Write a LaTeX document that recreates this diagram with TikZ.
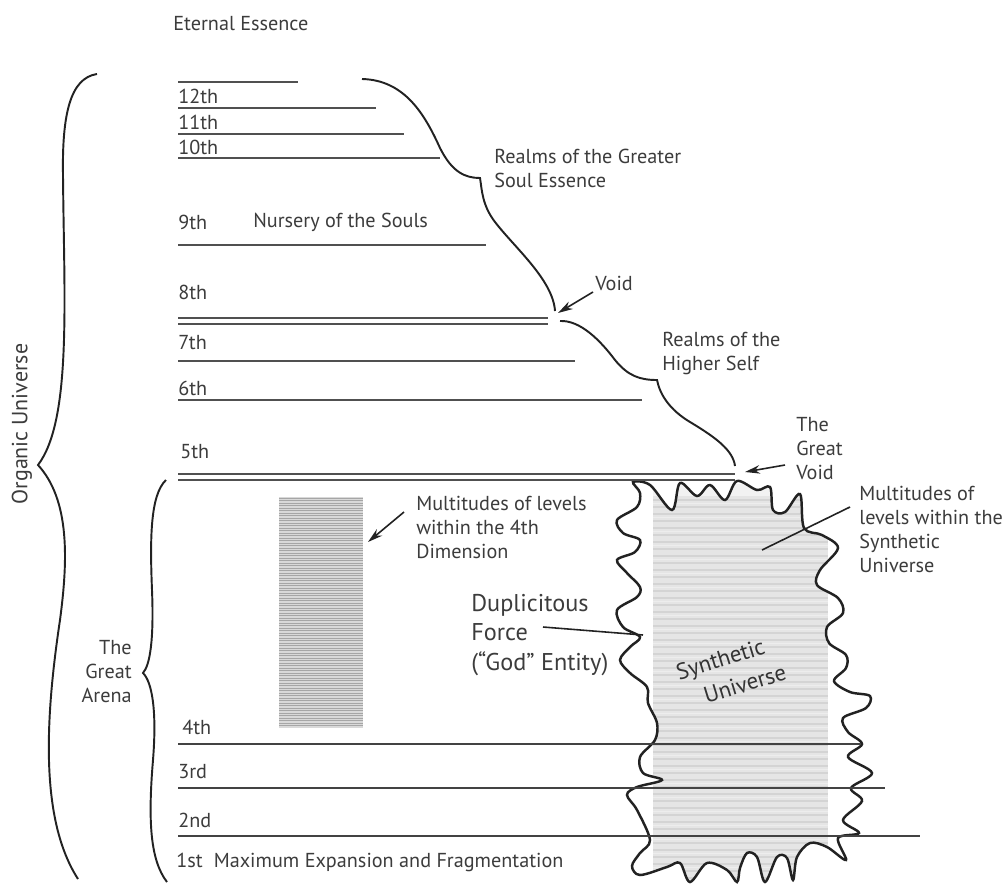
\documentclass[tikz,border=0pt]{standalone}
\usepackage{fontspec}
\setmainfont{PT Sans}
\usetikzlibrary{arrows.meta}
\definecolor{txt}{HTML}{3C3C3C}
\definecolor{lvl}{HTML}{505050}
\definecolor{ink}{HTML}{222222}
\begin{document}
\begin{tikzpicture}[x=0.02cm,y=-0.02cm,
  lbl/.style={font=\fontsize{11.5}{13.66}\selectfont, text=txt, inner sep=0pt, anchor=west, align=left},
  big/.style={font=\fontsize{13.8}{16.8}\selectfont, text=txt, inner sep=0pt, anchor=west, align=left},
  sutext/.style={font=\fontsize{13}{17.5}\selectfont, text=gray!40!black, inner sep=0pt, rotate=17, align=left},
  lvline/.style={draw=lvl, line width=1.3pt},
  dbl/.style={draw=lvl, line width=0.9pt},
  bracecurve/.style={draw=ink, line width=1.1pt},
  blobline/.style={draw=ink, line width=1.4pt},
  ptr/.style={draw=ink, line width=0.9pt, -{Stealth[length=8.5pt,width=4.8pt]}},
  leader/.style={draw=ink, line width=0.9pt}]
\useasboundingbox (0,0) rectangle (1004,883);
\fill[white] (0,0) rectangle (1004,883);

% ---------- 4th dimension hatched block
\fill[gray!30] (279,497) rectangle (363,728);
\foreach \yy in {498,500.5,...,727} \draw[gray!70, line width=0.35pt] (279,\yy) -- (363,\yy);

% ---------- synthetic universe
\def\blob{plot[smooth cycle, tension=0.55] coordinates {(633,482) (650,485) (672,510) (680,483) (697,496) (710,485) (725,500) (737,481) (757,490) (770,487) (773,510) (785,512) (800,494) (804,528) (822,535) (838,548) (820,570) (817,585) (838,598) (843,613) (827,627) (829,643) (846,655) (846,668) (834,681) (850,692) (870,696) (866,708) (843,718) (848,732) (862,744) (848,757) (872,773) (851,788) (862,801) (843,820) (859,833) (838,838) (846,860) (827,847) (810,843) (797,857) (793,880) (787,858) (777,857) (765,882) (757,857) (747,853) (740,868) (737,882) (727,870) (707,863) (690,882) (680,863) (667,867) (640,875) (632,866) (640,853) (650,840) (637,810) (627,795) (637,787) (662,780) (643,773) (640,757) (655,740) (657,723) (648,703) (647,687) (630,673) (620,660) (630,647) (640,637) (623,627) (617,610) (637,597) (640,587) (627,573) (617,560) (635,552) (640,540) (623,533) (617,520) (637,507) (640,493)}}
\begin{scope}
  \clip \blob;
  \fill[gray!10] (653,484) rectangle (828,883);
  \fill[gray!20] (653,496) rectangle (828,883);
  \foreach \yy in {500,507,...,880} \draw[gray!34, line width=1pt] (653,\yy) -- (828,\yy);
  \foreach \yy in {503.5,517.5,...,880} \draw[gray!14, line width=0.8pt] (653,\yy) -- (828,\yy);
\end{scope}
\draw[blobline] \blob;

% ---------- level lines
\draw[lvline] (178,82) -- (298,82);
\draw[lvline] (178,108) -- (376,108);
\draw[lvline] (178,134) -- (404,134);
\draw[lvline] (178,158) -- (440,158);
\draw[lvline] (178,245) -- (486,245);
\draw[dbl] (178,318) -- (548,318);
\draw[dbl] (178,324) -- (548,324);
\draw[lvline] (178,361) -- (575,361);
\draw[lvline] (178,400) -- (642,400);
\draw[dbl] (178,474) -- (735,474);
\draw[dbl] (178,480) -- (735,480);
\draw[lvline, draw=ink!85] (178,744) -- (861,744);
\draw[lvline, draw=ink!85] (178,788) -- (885,788);
\draw[lvline, draw=ink!85] (178,836) -- (920,836);

% ---------- texts
\node[lbl] (ee) at (173,24) {Eternal Essence};
\node[lbl] (l12) at (178,96) {12th};
\node[lbl] (l11) at (178,122) {11th};
\node[lbl] (l10) at (178,147) {10th};
\node[lbl] (l9) at (178,222) {9th};
\node[lbl] (ns) at (253,222) {Nursery of the Souls};
\node[lbl] (l8) at (178,292) {8th};
\node[lbl] (l7) at (178,343) {7th};
\node[lbl] (l6) at (178,388) {6th};
\node[lbl] (l5) at (180,452) {5th};
\node[lbl] (l4) at (182,727) {4th};
\node[lbl] (l3) at (178,772) {3rd};
\node[lbl] (l2) at (178,820) {2nd};
\node[lbl] (l1) at (176,862) {1st\hspace{0.55em}Maximum Expansion and Fragmentation};
\node[lbl] (rg) at (494,168) {Realms of the Greater\\Soul Essence};
\node[lbl] (void) at (595,283) {Void};
\node[lbl] (rh) at (662,353) {Realms of the\\Higher Self};
\node[lbl] (gv) at (796,449) {The\\Great\\Void};
\node[lbl, align=right, anchor=east] (ga) at (132,672) {The\\Great\\Arena};
\node[lbl] (m4) at (416,527) {Multitudes of levels\\within the 4th\\Dimension};
\node[lbl] (ms) at (859,529) {Multitudes of\\levels within the\\Synthetic\\Universe};
\node[big] (df) at (471,635) {Duplicitous\\Force\\(“God” Entity)};
\node[lbl, font=\fontsize{12.5}{14}\selectfont, rotate=90, anchor=center] (ou) at (22,424) {Organic Universe};
\node[sutext] (su) at (731,672) {Synthetic\\\hspace*{11pt}Universe};

% ---------- braces
\draw[bracecurve] (362,79) .. controls (405,80) and (425,115) .. (440,148)
  .. controls (452,172) and (465,178) .. (480,178)
  .. controls (482,190) and (482,205) .. (495,222)
  .. controls (515,248) and (553,280) .. (555,311);
\draw[bracecurve] (560,321) .. controls (580,320) and (600,340) .. (615,360)
  .. controls (628,376) and (640,380) .. (657,380)
  .. controls (660,395) and (670,410) .. (690,422)
  .. controls (715,437) and (733,450) .. (735,466);
\draw[bracecurve] (97,74) .. controls (70,78) and (62,115) .. (63,175)
  .. controls (64,300) and (72,420) .. (38,465)
  .. controls (70,500) and (68,560) .. (60,620)
  .. controls (45,720) and (40,820) .. (78,879);
\draw[bracecurve] (166,480) .. controls (150,495) and (150,540) .. (152,590)
  .. controls (154,640) and (150,665) .. (143,673)
  .. controls (152,682) and (157,710) .. (153,760)
  .. controls (148,820) and (150,860) .. (167,882);

% ---------- pointers
\coordinate (voidtail) at (593,292);
\coordinate (voidhead) at (558,313);
\draw[ptr] (voidtail) -- (voidhead);
\coordinate (gvtail) at (785,465);
\coordinate (gvhead) at (745,472);
\draw[ptr] (gvtail) -- (gvhead);
\coordinate (m4tail) at (404,512);
\coordinate (m4head) at (368,542);
\draw[ptr] (m4tail) -- (m4head);
\coordinate (mstail) at (850,507);
\coordinate (mshead) at (762,550);
\draw[leader] (mstail) -- (mshead);
\coordinate (dftail) at (543,627);
\coordinate (dfhead) at (643,635);
\draw[leader] (dftail) -- (dfhead);
\end{tikzpicture}
\end{document}
